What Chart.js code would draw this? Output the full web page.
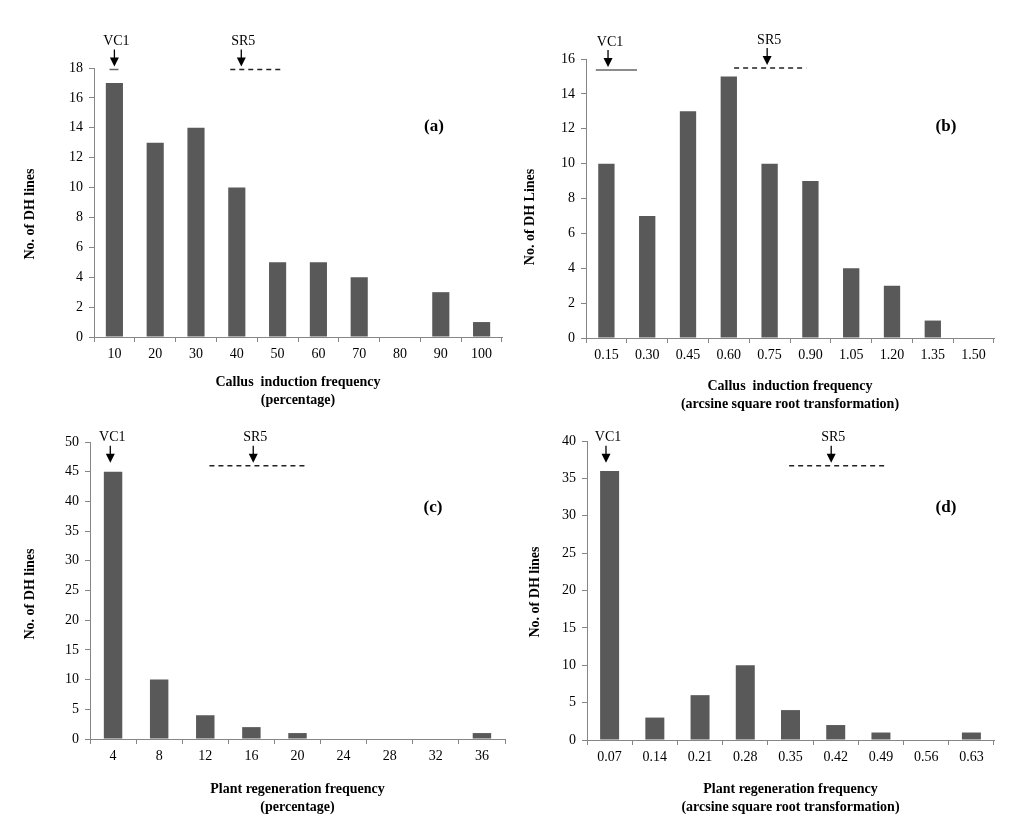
<!DOCTYPE html>
<html>
<head>
<meta charset="utf-8">
<script src="https://cdn.jsdelivr.net/npm/chart.js@4.4.1/dist/chart.umd.min.js"></script>
<style>
body { margin: 0; background: #fff; }
.panel { position: absolute; width: 507px; height: 413px; }
</style>
</head>
<body>
<div class="panel" style="left:0;top:0"><canvas id="chart_a" width="507" height="413"></canvas></div>
<div class="panel" style="left:507px;top:0"><canvas id="chart_b" width="508" height="413"></canvas></div>
<div class="panel" style="left:0;top:413px"><canvas id="chart_c" width="507" height="413"></canvas></div>
<div class="panel" style="left:507px;top:413px"><canvas id="chart_d" width="508" height="413"></canvas></div>
<script>
'use strict';

// (a) callus induction frequency, percentage
let labelsA = ['10', '20', '30', '40', '50', '60', '70', '80', '90', '100'];
let countsA = [17, 13, 14, 10, 5, 5, 4, 0, 3, 1];
let yMaxA = 18, yStepA = 2;

// (b) callus induction frequency, arcsine transformed
let labelsB = ['0.15', '0.30', '0.45', '0.60', '0.75', '0.90', '1.05', '1.20', '1.35', '1.50'];
let countsB = [10, 7, 13, 15, 10, 9, 4, 3, 1, 0];
let yMaxB = 16, yStepB = 2;

// (c) plant regeneration frequency, percentage
let labelsC = ['4', '8', '12', '16', '20', '24', '28', '32', '36'];
let countsC = [45, 10, 4, 2, 1, 0, 0, 0, 1];
let yMaxC = 50, yStepC = 5;

// (d) plant regeneration frequency, arcsine transformed
let labelsD = ['0.07', '0.14', '0.21', '0.28', '0.35', '0.42', '0.49', '0.56', '0.63'];
let countsD = [36, 3, 6, 10, 4, 2, 1, 0, 1];
let yMaxD = 40, yStepD = 5;

const FONT = '"Liberation Serif", "Times New Roman", serif';
const AXIS = '#868686';

// arrows for parents VC1 / SR5, panel tag and y title
const markers = {
    id: 'markers',
    afterDraw(chart, args, opts) {
        let ctx = chart.ctx;
        let xs = chart.scales.x, ys = chart.scales.y;
        ctx.save();
        (opts.items || []).forEach(function (m) {
            let px = xs.getPixelForValue(m.at);
            let py = ys.getPixelForValue(m.y);
            if (m.from !== undefined) {
                ctx.beginPath();
                ctx.setLineDash(m.dashed ? [5, 4] : []);
                ctx.lineWidth = 1.5;
                ctx.strokeStyle = m.dashed ? '#222' : '#666';
                ctx.moveTo(xs.getPixelForValue(m.from), py);
                ctx.lineTo(xs.getPixelForValue(m.to), py);
                ctx.stroke();
            }
            ctx.setLineDash([]);
            ctx.lineWidth = 1.3;
            ctx.strokeStyle = '#000';
            ctx.fillStyle = '#000';
            ctx.beginPath();
            ctx.moveTo(px, py - 20);
            ctx.lineTo(px, py - 9);
            ctx.stroke();
            ctx.beginPath();
            ctx.moveTo(px - 4.5, py - 12);
            ctx.lineTo(px + 4.5, py - 12);
            ctx.lineTo(px, py - 3);
            ctx.closePath();
            ctx.fill();
            ctx.font = '14px ' + FONT;
            ctx.textAlign = 'center';
            ctx.textBaseline = 'middle';
            ctx.fillText(m.label, px + 2, py - 28);
        });
        ctx.fillStyle = '#000';
        ctx.textAlign = 'center';
        ctx.textBaseline = 'middle';
        ctx.font = 'bold 17px ' + FONT;
        ctx.fillText(opts.tag, opts.tagX, opts.tagY);
        ctx.translate(opts.yTitleX, opts.yTitleY);
        ctx.rotate(-Math.PI / 2);
        ctx.font = 'bold 14px ' + FONT;
        ctx.fillText(opts.yTitle, 0, 0);
        ctx.restore();
    }
};

function makeChart(id, labels, counts, yMax, yStep, s) {
    let ctx = document.querySelector(id).getContext('2d');
    return new Chart(ctx, {
        type: 'bar',
        data: {
            labels: labels,
            datasets: [{
                data: counts,
                backgroundColor: '#595959',
                barPercentage: s.bar,
                categoryPercentage: 1
            }]
        },
        options: {
            responsive: false,
            animation: false,
            layout: { padding: { left: 0, right: s.padRight, top: s.padTop, bottom: 0 } },
            plugins: {
                legend: { display: false },
                tooltip: { enabled: false },
                markers: s.markers
            },
            scales: {
                x: {
                    grid: { drawOnChartArea: false, drawTicks: true, tickLength: 5, color: AXIS, offset: true },
                    border: { display: true, color: AXIS, width: 1 },
                    ticks: { color: '#000', font: { family: FONT, size: 14 }, padding: 4, maxRotation: 0, autoSkip: false },
                    title: {
                        display: true,
                        text: s.xTitle,
                        color: '#000',
                        font: { family: FONT, size: 14, weight: 'bold', lineHeight: '18px' },
                        padding: { top: 0, bottom: s.titlePad }
                    },
                    afterFit(scale) { scale.height = s.xHeight; }
                },
                y: {
                    min: 0,
                    max: yMax,
                    ticks: { stepSize: yStep, color: '#000', font: { family: FONT, size: 14 }, padding: 6 },
                    grid: { drawOnChartArea: false, drawTicks: true, tickLength: 5, color: AXIS },
                    border: { display: true, color: AXIS, width: 1 },
                    afterFit(scale) { scale.width = s.yWidth; }
                }
            }
        },
        plugins: [markers]
    });
}

window.onload = function () {
    makeChart('#chart_a', labelsA, countsA, yMaxA, yStepA, {
        bar: 0.42, padRight: 5, padTop: 68, xHeight: 76, yWidth: 94, titlePad: 4,
        xTitle: ['Callus  induction frequency', '(percentage)'],
        markers: {
            tag: '(a)', tagX: 434, tagY: 127, yTitle: 'No. of DH lines', yTitleX: 30, yTitleY: 214,
            items: [
                { label: 'VC1', at: 0, y: 17.9, from: -0.12, to: 0.1, dashed: false },
                { label: 'SR5', at: 3.11, y: 17.9, from: 2.84, to: 4.12, dashed: true }
            ]
        }
    });
    makeChart('#chart_b', labelsB, countsB, yMaxB, yStepB, {
        bar: 0.4, padRight: 21, padTop: 59, xHeight: 75, yWidth: 79, titlePad: 0,
        xTitle: ['Callus  induction frequency', '(arcsine square root transformation)'],
        markers: {
            tag: '(b)', tagX: 439, tagY: 127, yTitle: 'No. of DH Lines', yTitleX: 23, yTitleY: 217,
            items: [
                { label: 'VC1', at: 0.04, y: 15.37, from: -0.26, to: 0.75, dashed: false },
                { label: 'SR5', at: 3.94, y: 15.48, from: 3.13, to: 4.9, dashed: true }
            ]
        }
    });
    makeChart('#chart_c', labelsC, countsC, yMaxC, yStepC, {
        bar: 0.4, padRight: 2, padTop: 29, xHeight: 87, yWidth: 90, titlePad: 10,
        xTitle: ['Plant regeneration frequency', '(percentage)'],
        markers: {
            tag: '(c)', tagX: 433, tagY: 95, yTitle: 'No. of DH lines', yTitleX: 30, yTitleY: 181,
            items: [
                { label: 'VC1', at: -0.06, y: 46 },
                { label: 'SR5', at: 3.04, y: 46, from: 2.09, to: 4.2, dashed: true }
            ]
        }
    });
    makeChart('#chart_d', labelsD, countsD, yMaxD, yStepD, {
        bar: 0.42, padRight: 21, padTop: 28, xHeight: 86, yWidth: 80, titlePad: 10,
        xTitle: ['Plant regeneration frequency', '(arcsine square root transformation)'],
        markers: {
            tag: '(d)', tagX: 439, tagY: 95, yTitle: 'No. of DH lines', yTitleX: 28, yTitleY: 179,
            items: [
                { label: 'VC1', at: -0.08, y: 36.7 },
                { label: 'SR5', at: 4.9, y: 36.7, from: 3.97, to: 6.07, dashed: true }
            ]
        }
    });
};
</script>
</body>
</html>
